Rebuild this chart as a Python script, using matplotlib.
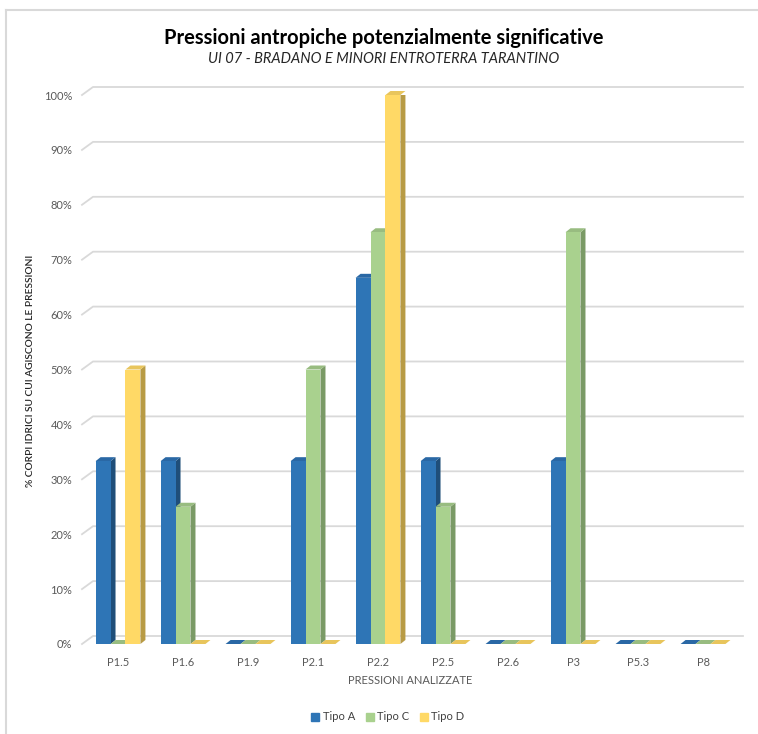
import matplotlib.pyplot as plt
from matplotlib.patches import Polygon, Patch
from matplotlib.lines import Line2D
import numpy as np

plt.rcParams['font.family'] = ['Lato', 'DejaVu Sans']

# dati (% corpi idrici)
categorie = ['P1.5', 'P1.6', 'P1.9', 'P2.1', 'P2.2', 'P2.5', 'P2.6', 'P3', 'P5.3', 'P8']
tipo_a = [33.3, 33.3, 0, 33.3, 66.7, 33.3, 0, 33.3, 0, 0]
tipo_c = [0, 25, 0, 50, 75, 25, 0, 75, 0, 0]
tipo_d = [50, 0, 0, 0, 100, 0, 0, 0, 0, 0]
serie_nomi = ['Tipo A', 'Tipo C', 'Tipo D']
y_ticks = list(range(0, 101, 10))

# colori: fronte, lato, sopra
colori = [('#2E75B6', '#1F4E79', '#2A68A5'),
          ('#A9D18E', '#7A9A66', '#98BC80'),
          ('#FFD966', '#B89B45', '#E8C55C')]

W, H = 758, 734
fig = plt.figure(figsize=(W / 100, H / 100), dpi=100)
ax = fig.add_axes([85.5 / W, 1 - 644 / H, 650 / W, 549 / H])
ax.set_xlim(-0.5, len(categorie) - 0.5)
ax.set_ylim(0, 100)

width = 0.23
DX, DY = 5 / 65, 4 / 5.49          # profondita' barre
GX, GY = 11 / 65, 8 / 5.49         # profondita' parete di fondo

# griglia sulla parete di fondo
for v in y_ticks:
    ax.plot([-0.554, -0.554 + GX, 9.615], [v, v + GY, v + GY],
            color='#D9D9D9', lw=1.3, zorder=0, clip_on=False)

x = np.arange(len(categorie))
z = 2
for k, vals in enumerate([tipo_a, tipo_c, tipo_d]):
    front, side, top = colori[k]
    pos = x + (k - 1) * width
    for xi, h in zip(pos, vals):
        x0, x1 = xi - width / 2, xi + width / 2
        if h > 0:
            ax.add_patch(Polygon([(x1, 0), (x1 + DX, DY), (x1 + DX, h + DY), (x1, h)],
                                 closed=True, fc=side, ec='none', zorder=z))
        ax.add_patch(Polygon([(x0, h), (x0 + DX, h + DY), (x1 + DX, h + DY), (x1, h)],
                             closed=True, fc=top, ec='none', zorder=z, clip_on=False))
    ax.bar(pos, vals, width, color=front, zorder=z + 1, linewidth=0)
    z += 2

for s in ax.spines.values():
    s.set_visible(False)
ax.set_xticks(x)
ax.set_xticklabels(categorie)
ax.set_yticks(y_ticks)
ax.set_yticklabels([f'{v}%' for v in y_ticks])
ax.tick_params(axis='both', length=0, labelsize=8, labelcolor='#595959')
ax.tick_params(axis='y', pad=9.5)
ax.tick_params(axis='x', pad=9.5)

ax.set_xlabel('PRESSIONI ANALIZZATE', fontsize=8, color='#595959', labelpad=5)
fig.text(31 / W, 1 - 371 / H, '% CORPI IDRICI SU CUI AGISCONO LE PRESSIONI',
         rotation=90, ha='center', va='center', fontsize=7.4, color='#262626',
         fontweight='semibold')

fig.text(384 / W, 1 - 38 / H, 'Pressioni antropiche potenzialmente significative',
         ha='center', va='center', fontsize=14.5, fontweight='bold', color='#000000')
fig.text(384 / W, 1 - 59 / H, 'UI 07 - BRADANO E MINORI ENTROTERRA TARANTINO',
         ha='center', va='center', fontsize=10.5, style='italic', color='#262626')

handles = [Patch(color=colori[k][0]) for k in range(3)]
fig.legend(handles, serie_nomi, loc='center', bbox_to_anchor=(388 / W, 1 - 717 / H),
           ncol=3, frameon=False, fontsize=8, handlelength=0.7, handleheight=0.7,
           handletextpad=0.3, columnspacing=1.0, labelcolor='#404040')

# cornice del grafico
fig.add_artist(Line2D([6 / W, 6 / W], [0, 1 - 10 / H], color='#D9D9D9', lw=1.5,
                      transform=fig.transFigure))
fig.add_artist(Line2D([6 / W, 1], [1 - 10 / H, 1 - 10 / H], color='#D9D9D9', lw=1.5,
                      transform=fig.transFigure))

fig.savefig('out.png', dpi=100)
